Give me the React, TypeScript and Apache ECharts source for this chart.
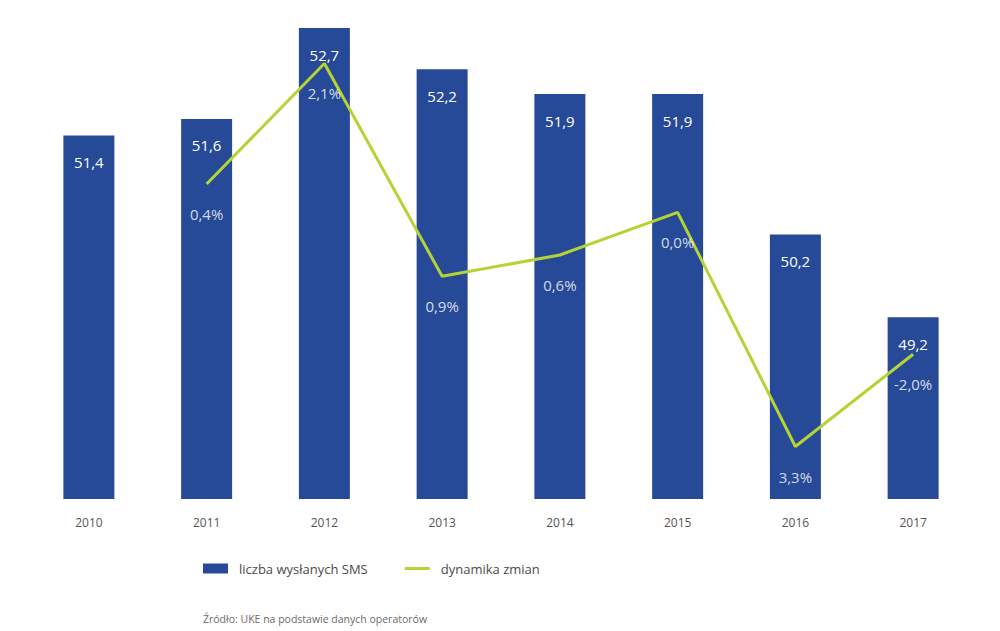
import React, { useEffect, useRef } from "react";
import * as echarts from "echarts";

const years = ["2010", "2011", "2012", "2013", "2014", "2015", "2016", "2017"];
const smsValues = [51.4, 51.6, 52.7, 52.2, 51.9, 51.9, 50.2, 49.2];
const smsLabels = ["51,4", "51,6", "52,7", "52,2", "51,9", "51,9", "50,2", "49,2"];
const dynValues: (number | null)[] = [null, 0.4, 2.1, -0.9, -0.6, 0.0, -3.3, -2.0];
const dynLabels = ["", "0,4%", "2,1%", "0,9%", "0,6%", "0,0%", "3,3%", "-2,0%"];

const FONT = "'Open Sans', 'Noto Sans', sans-serif";

export default function App() {
  const ref = useRef<HTMLDivElement>(null);
  useEffect(() => {
    if (!ref.current) return;
    const chart = echarts.init(ref.current, null, { renderer: "svg" });
    chart.setOption({
      animation: false,
      textStyle: { fontFamily: FONT },
      grid: { left: 30, right: 28, top: 28, bottom: 132 },
      title: {
        text: "Źródło: UKE na podstawie danych operatorów",
        left: 198,
        top: 608,
        textStyle: { fontSize: 10.5, fontWeight: "normal", color: "#6b6b6b", fontFamily: FONT },
      },
      legend: {
        left: 198,
        top: 557,
        itemWidth: 25,
        itemHeight: 10,
        itemGap: 37,
        textStyle: { fontSize: 13, color: "#4a4a4a", padding: [0, 0, 0, 6], fontFamily: FONT },
        data: [
          { name: "liczba wysłanych SMS", icon: "rect" },
          {
            name: "dynamika zmian",
            icon: "path://M0,0L25,0L25,3L0,3Z",
            itemStyle: { color: "#b5d334" },
          },
        ],
      },
      xAxis: {
        type: "category",
        data: years,
        axisLine: { show: false },
        axisTick: { show: false },
        axisLabel: { color: "#555", fontSize: 12, margin: 17, fontFamily: FONT },
      },
      yAxis: [
        { type: "value", min: 47, max: 52.7, show: false, splitLine: { show: false } },
        { type: "value", min: -4.04, max: 2.6, show: false, splitLine: { show: false } },
      ],
      series: [
        {
          name: "liczba wysłanych SMS",
          type: "bar",
          data: smsValues,
          barWidth: 51,
          yAxisIndex: 0,
          itemStyle: { color: "#264a98" },
          label: {
            show: true,
            position: "insideTop",
            distance: 19,
            color: "#fff",
            fontSize: 15,
            fontFamily: FONT,
            formatter: (p: any) => smsLabels[p.dataIndex],
          },
        },
        {
          name: "dynamika zmian",
          type: "line",
          data: dynValues,
          yAxisIndex: 1,
          symbol: "none",
          lineStyle: { color: "#b5d334", width: 3 },
          itemStyle: { color: "#b5d334" },
          z: 3,
        },
        {
          name: "dynamika zmian etykiety",
          type: "scatter",
          data: dynValues,
          yAxisIndex: 1,
          symbolSize: 1,
          itemStyle: { color: "rgba(0,0,0,0)" },
          silent: true,
          label: {
            show: true,
            position: "bottom",
            distance: 22,
            color: "#fff",
            fontSize: 15,
            fontFamily: FONT,
            formatter: (p: any) => dynLabels[p.dataIndex],
          },
          z: 4,
        },
      ],
    });
    return () => chart.dispose();
  }, []);
  return (
    <div
      ref={ref}
      style={{ position: "absolute", left: 0, top: 0, width: 1000, height: 631 }}
    />
  );
}
